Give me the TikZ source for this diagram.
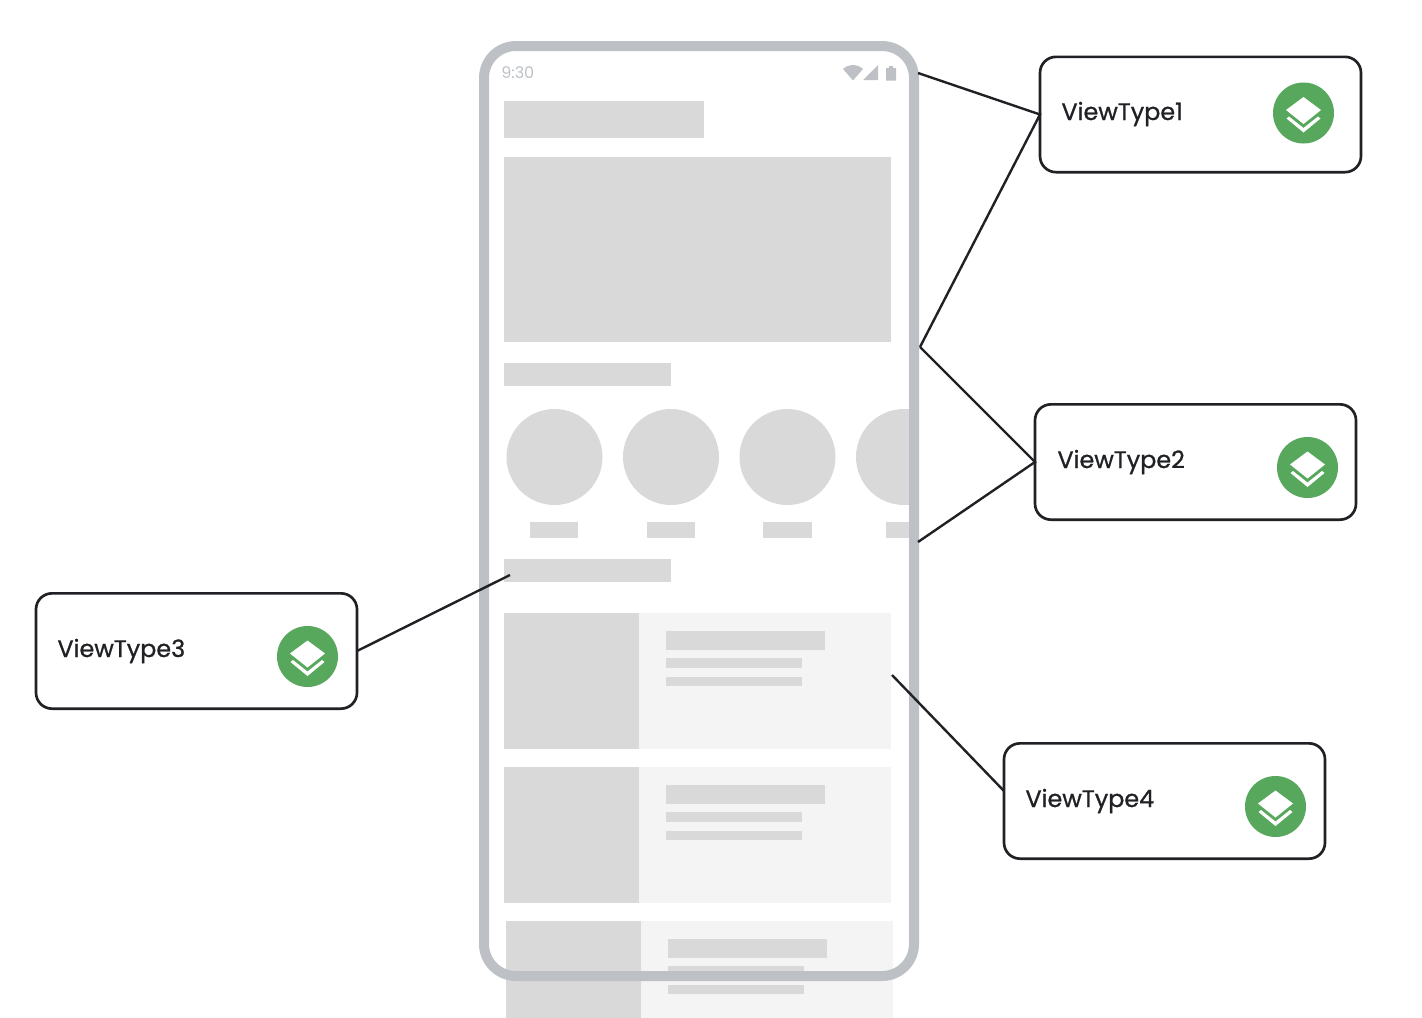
\documentclass[tikz,border=0pt]{standalone}
\usepackage{fontspec}
\setmainfont{Poppins}
\newfontfamily\medfont{Poppins}[RawFeature={embolden=0.9}]
\definecolor{frameC}{HTML}{BDC1C6}
\definecolor{blockC}{HTML}{D9D9D9}
\definecolor{cardC}{HTML}{F4F4F4}
\definecolor{inkC}{HTML}{202124}
\definecolor{iconC}{HTML}{57A75D}
\tikzset{
  vbox/.style={draw=inkC,line width=2pt,rounded corners=12pt,fill=white,minimum width=240.75pt,minimum height=86.5pt,inner sep=0pt,outer sep=0pt},
  vlabel/.style={anchor=base west,inner sep=0pt,outer sep=0pt,text=inkC,font=\medfont\fontsize{17.9pt}{20pt}\selectfont},
  vdisc/.style={circle,fill=iconC,minimum size=45.75pt,inner sep=0pt,outer sep=0pt},
  phone/.style={draw=frameC,line width=7.5pt,rounded corners=24pt,minimum width=322.5pt,minimum height=697.5pt,inner sep=0pt,outer sep=0pt},
  link/.style={draw=inkC,line width=1.8pt,line join=miter},
  block/.style={fill=blockC},
  card/.style={fill=cardC},
  status/.style={fill=frameC},
}
\newcommand{\cardrow}[2]{%
  \begin{scope}[shift={(#1,#2)}]
    \fill[card] (504,613) rectangle (891,749);
    \fill[block] (504,613) rectangle (639,749);
    \fill[block] (666,631) rectangle (825,650);
    \fill[block] (666,658) rectangle (802,668);
    \fill[block] (666,677) rectangle (802,686);
  \end{scope}}
\newcommand{\layers}[1]{%
  \fill[white] ($(#1)+(0,-16)$) -- ($(#1)+(17.5,-3)$) -- ($(#1)+(0,11)$) -- ($(#1)+(-17.5,-3)$) -- cycle;
  \fill[white] ($(#1)+(-17,5.5)$) -- ($(#1)+(-14.5,3.5)$) -- ($(#1)+(0,15)$) -- ($(#1)+(14.5,3.5)$) -- ($(#1)+(17,5.5)$) -- ($(#1)+(0,19.5)$) -- cycle;}
\usetikzlibrary{calc}
\begin{document}
\begin{tikzpicture}[x=0.75pt,y=-0.75pt]
\useasboundingbox (0,0) rectangle (1422,1018);
% screen content
\fill[block] (504,101) rectangle (704,138);
\fill[block] (504,157) rectangle (891,342);
\fill[block] (504,363) rectangle (671,386);
\begin{scope}
  \clip (0,0) rectangle (914,1018);
  \fill[block] (554.5,457) circle [radius=48];
  \fill[block] (671,457) circle [radius=48];
  \fill[block] (787.5,457) circle [radius=48];
  \fill[block] (904,457) circle [radius=48];
  \fill[block] (530,522) rectangle (578,538);
  \fill[block] (646.5,522) rectangle (695,538);
  \fill[block] (763,522) rectangle (811.5,538);
  \fill[block] (886,522) rectangle (914,538);
\end{scope}
\fill[block] (504,559) rectangle (671,582);
\cardrow{0}{0}
\cardrow{0}{154}
\begin{scope}
  \clip (0,0) rectangle (1422,1018);
  \cardrow{2}{308}
\end{scope}
% frame
\node[phone] (ph) at (699,511) {};
% status bar
\node[anchor=base west,inner sep=0pt,text=frameC,font=\fontsize{12pt}{14pt}\selectfont] (clock) at (501,78.5) {9:30};
\fill[status] (843,69) .. controls (849,63.5) and (857,63.5) .. (863,69) -- (853,80.5) -- cycle;
\fill[status] (878,65) -- (878,80) -- (863,80) -- cycle;
\fill[status] (886,68) -- (889,68) -- (889,66) -- (893,66) -- (893,68) -- (896,68) -- (896,80.5) -- (886,80.5) -- cycle;
% boxes
\node[vbox] (vt1) at (1200.5,114.5) {};
\node[vbox] (vt2) at (1195.5,462) {};
\node[vbox] (vt3) at (196.5,651) {};
\node[vbox] (vt4) at (1164.5,801) {};
\node[vlabel] (l1) at (1061.5,120) {ViewType1};
\node[vlabel] (l2) at (1057.5,468) {ViewType2};
\node[vlabel] (l3) at (57.5,657) {ViewType3};
\node[vlabel] (l4) at (1025.5,807) {ViewType4};
\node[vdisc] (d1) at (1303.5,113) {};
\node[vdisc] (d2) at (1307.5,467.5) {};
\node[vdisc] (d3) at (307.5,656.5) {};
\node[vdisc] (d4) at (1275.5,806.5) {};
\layers{d1}\layers{d2}\layers{d3}\layers{d4}
% connector ends
\coordinate (a1) at (918,73);
\coordinate (a2) at (920,347);
\coordinate (a3) at (918,542);
\coordinate (a4) at (510,575);
\coordinate (a5) at (892,675);
\coordinate (b4) at (1004,791);
\draw[link] (a1) -- (vt1.west) -- (a2);
\draw[link] (a2) -- (vt2.west) -- (a3);
\draw[link] (a4) -- (vt3.east);
\draw[link] (a5) -- (b4);
\end{tikzpicture}
\end{document}
